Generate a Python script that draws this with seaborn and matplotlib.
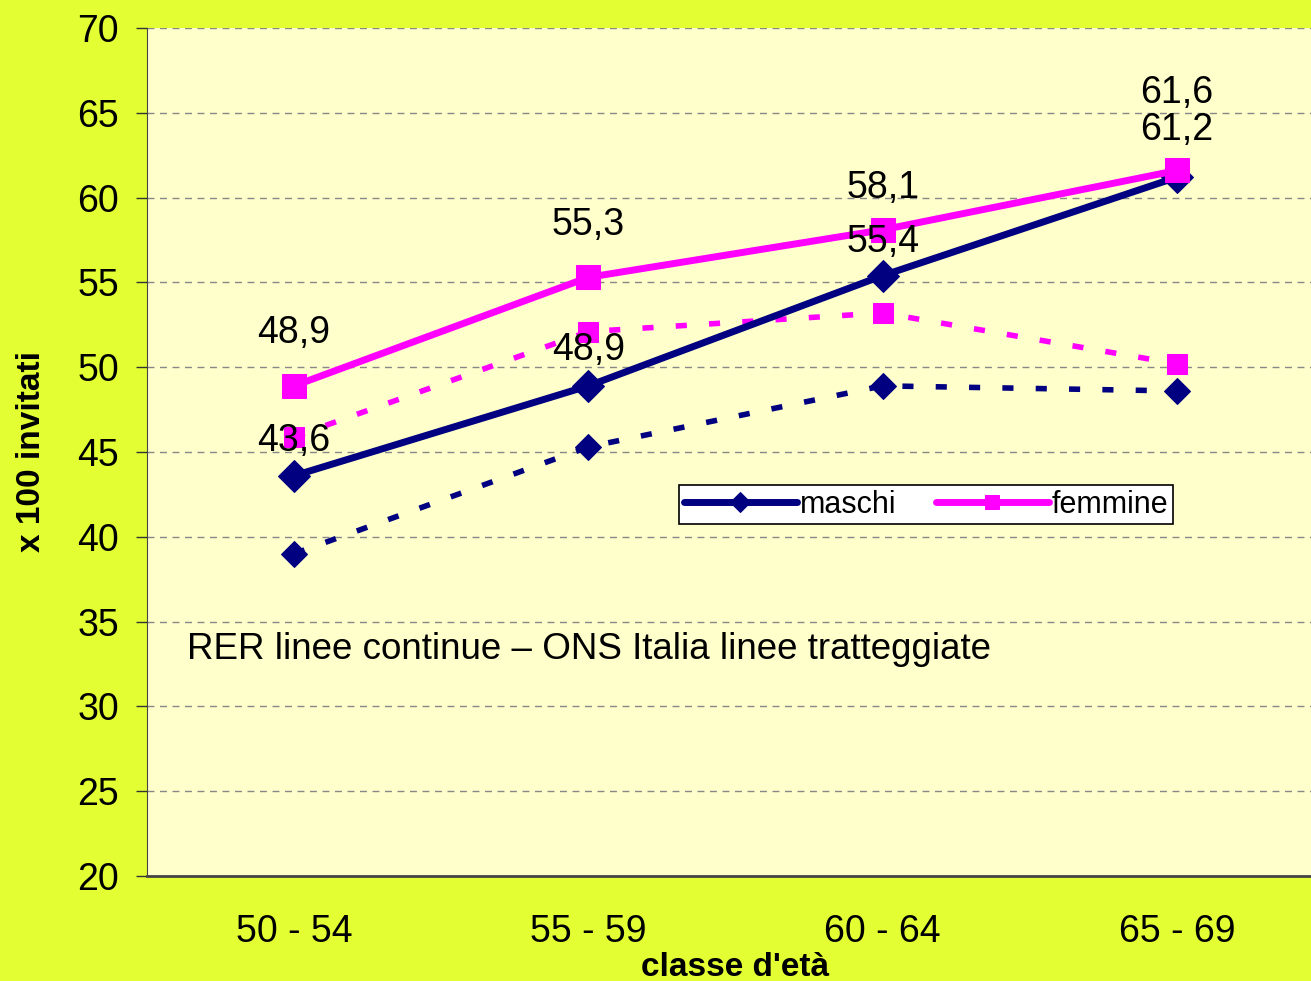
import matplotlib
matplotlib.use("Agg")
import matplotlib.pyplot as plt
import seaborn as sns
import pandas as pd

classi = ["50 - 54", "55 - 59", "60 - 64", "65 - 69"]
rer_maschi = [43.6, 48.9, 55.4, 61.2]
rer_femmine = [48.9, 55.3, 58.1, 61.6]
ons_maschi = [39.0, 45.3, 48.9, 48.6]
ons_femmine = [45.9, 52.1, 53.2, 50.2]

navy = "#000080"
magenta = "#FF00FF"

sns.set_style("white")
plt.rcParams['font.family'] = ['Liberation Sans', 'DejaVu Sans']
plt.rcParams['text.color'] = 'black'
plt.rcParams['axes.labelcolor'] = 'black'
plt.rcParams['xtick.color'] = 'black'
plt.rcParams['ytick.color'] = 'black'

fig = plt.figure(figsize=(13.11, 9.81), dpi=100)
fig.patch.set_facecolor("#E3FF33")
ax = fig.add_axes([147 / 1311, 1 - 876 / 981, 1177 / 1311, 848 / 981])
ax.set_facecolor("#FFFFCC")

x = list(range(len(classi)))
df = pd.DataFrame({"x": x, "rm": rer_maschi, "rf": rer_femmine,
                   "om": ons_maschi, "of": ons_femmine})

# linee tratteggiate (ONS Italia)
sns.lineplot(data=df, x="x", y="om", ax=ax, color=navy, lw=4, ls=(0, (2, 4)),
             marker="D", markersize=13, markeredgecolor=navy, zorder=3)
sns.lineplot(data=df, x="x", y="of", ax=ax, color=magenta, lw=4, ls=(0, (2, 4)),
             marker="s", markersize=15, markeredgecolor=magenta, zorder=3)
# linee continue (RER)
sns.lineplot(data=df, x="x", y="rm", ax=ax, color=navy, lw=5, ls="-",
             marker="D", markersize=16, markeredgecolor=navy, label="maschi", zorder=4)
sns.lineplot(data=df, x="x", y="rf", ax=ax, color=magenta, lw=5, ls="-",
             marker="s", markersize=17, markeredgecolor=magenta, label="femmine", zorder=4)

# etichette dei valori
off_m = [25, 26, 24, 34]
off_f = [38, 38, 30, 56]
for i in x:
    ax.annotate(f"{rer_maschi[i]:.1f}".replace(".", ","), (i, rer_maschi[i]),
                xytext=(0, off_m[i]), textcoords="offset points",
                ha="center", va="center", fontsize=27, zorder=5)
    ax.annotate(f"{rer_femmine[i]:.1f}".replace(".", ","), (i, rer_femmine[i]),
                xytext=(0, off_f[i]), textcoords="offset points",
                ha="center", va="center", fontsize=27, zorder=5)

ax.text(0.034, 0.267, "RER linee continue \u2013 ONS Italia linee tratteggiate",
        transform=ax.transAxes, fontsize=26.5, va="center")

ax.set_xlim(-0.5, 3.5)
ax.set_ylim(20, 70)
ax.set_yticks(range(20, 71, 5))
ax.yaxis.grid(True, color="#888888", ls=(0, (5, 4)), lw=1)
ax.set_xticks(x)
ax.set_xticklabels(classi)
ax.set_xticks([-0.5, 0.5, 1.5, 2.5, 3.5], minor=True)
ax.tick_params(axis="x", which="major", length=0, pad=27, labelsize=27)
ax.tick_params(axis="x", which="minor", length=10, width=1, color="#333333")
ax.tick_params(axis="y", length=8, width=1, pad=12, labelsize=27, left=True, color="#333333")

for s in ["top", "right"]:
    ax.spines[s].set_visible(False)
ax.spines["left"].set_color("#444444")
ax.spines["bottom"].set_color("#444444")
ax.spines["bottom"].set_linewidth(2)

ax.set_xlabel("classe d'età", fontsize=24, fontweight="bold", labelpad=2)
ax.set_ylabel("x 100 invitati", fontsize=24, fontweight="bold", labelpad=22)

leg = ax.legend(loc="upper left", bbox_to_anchor=(679 / 1311, 1 - 485 / 981),
                bbox_transform=fig.transFigure, ncol=2, fontsize=22, frameon=True,
                fancybox=False, edgecolor="black", framealpha=1, handlelength=3.7,
                borderpad=0.15, borderaxespad=0, columnspacing=1.3, handletextpad=0.1)
leg.get_frame().set_linewidth(1.2)
for h in leg.legend_handles:
    h.set_markersize(10)

fig.savefig("out.png", dpi=100, facecolor=fig.get_facecolor())
